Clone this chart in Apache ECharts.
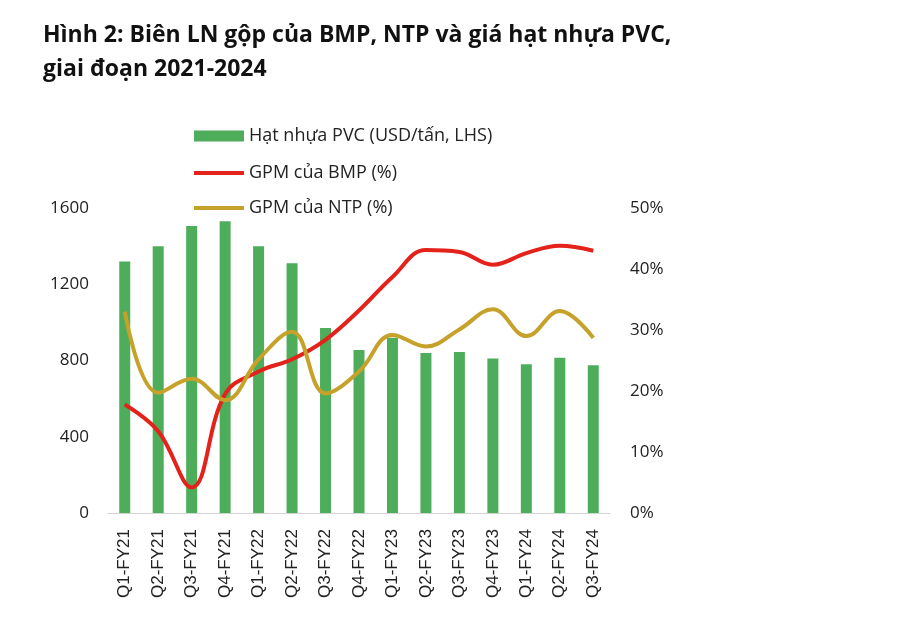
<!DOCTYPE html>
<html><head><meta charset="utf-8">
<script src="https://cdn.jsdelivr.net/npm/echarts@6/dist/echarts.min.js"></script>
<style>html,body{margin:0;padding:0;background:#fff}#c{width:900px;height:640px}</style>
</head><body><div id="c"></div>
<script>
const categories = ['Q1-FY21','Q2-FY21','Q3-FY21','Q4-FY21','Q1-FY22','Q2-FY22','Q3-FY22','Q4-FY22','Q1-FY23','Q2-FY23','Q3-FY23','Q4-FY23','Q1-FY24','Q2-FY24','Q3-FY24'];
const pvcPrice = [1320,1400,1505,1530,1400,1310,970,855,920,840,845,810,780,815,775];
const gpmBMP = [17.8,13.4,4.2,19.5,23.2,25.2,28.4,33.2,38.7,43.1,42.8,40.7,42.6,43.8,43.0];
const gpmNTP = [33.0,19.7,22.0,18.5,25.2,29.7,19.6,23.2,29.2,27.3,30.1,33.4,29.0,33.1,28.7];
const leftTicks = [0,400,800,1200,1600];
const rightTicks = [0,10,20,30,40,50];
const names = ['Hạt nhựa PVC (USD/tấn, LHS)','GPM của BMP (%)','GPM của NTP (%)'];

const chart = echarts.init(document.getElementById('c'), null, {renderer:'canvas'});
const axisFont = {fontFamily:'Open Sans', fontSize:17, color:'#222'};
const legendBase = {orient:'vertical', itemWidth:50, itemGap:0, selectedMode:false,
  textStyle:{fontFamily:'Open Sans', fontSize:18, color:'#222'}};
chart.setOption({
  animation:false,
  title:{text:'Hình 2: Biên LN gộp của BMP, NTP và giá hạt nhựa PVC,\ngiai đoạn 2021-2024', left:38, top:13,
    textStyle:{fontFamily:'Open Sans', fontWeight:'bold', fontSize:23, color:'#111', lineHeight:34}},
  legend:[
    Object.assign({}, legendBase, {data:[{name:names[0], icon:'rect'}], itemHeight:11, left:189, top:122}),
    Object.assign({}, legendBase, {data:[{name:names[1], icon:'rect'}], itemHeight:4, left:189, top:159}),
    Object.assign({}, legendBase, {data:[{name:names[2], icon:'rect'}], itemHeight:4, left:189, top:194})
  ],
  grid:{left:108, right:290, top:208, bottom:127},
  xAxis:{type:'category', data:categories, axisTick:{show:false},
    axisLine:{lineStyle:{color:'#d4d4d4', width:1}},
    axisLabel:{rotate:90, fontFamily:'Liberation Sans', fontSize:17, color:'#222', margin:16}},
  yAxis:[
    {type:'value', min:leftTicks[0], max:leftTicks[leftTicks.length-1], interval:400, splitLine:{show:false},
      axisLine:{show:false}, axisTick:{show:false},
      axisLabel:Object.assign({margin:19, formatter:v=>String(v)}, axisFont)},
    {type:'value', min:rightTicks[0], max:rightTicks[rightTicks.length-1], interval:10, splitLine:{show:false},
      axisLine:{show:false}, axisTick:{show:false}, axisLabel:Object.assign({margin:20, formatter:'{value}%'}, axisFont)}
  ],
  series:[
    {name:names[0], type:'bar', data:pvcPrice, barWidth:11, itemStyle:{color:'#4DAD5B'}, yAxisIndex:0},
    {name:names[1], type:'line', data:gpmBMP, yAxisIndex:1, smooth:0.4, symbol:'none',
      lineStyle:{color:'#E3231B', width:4}, itemStyle:{color:'#E3231B'}},
    {name:names[2], type:'line', data:gpmNTP, yAxisIndex:1, smooth:0.4, symbol:'none',
      lineStyle:{color:'#C6A22A', width:4}, itemStyle:{color:'#C6A22A'}}
  ]
});
</script></body></html>
